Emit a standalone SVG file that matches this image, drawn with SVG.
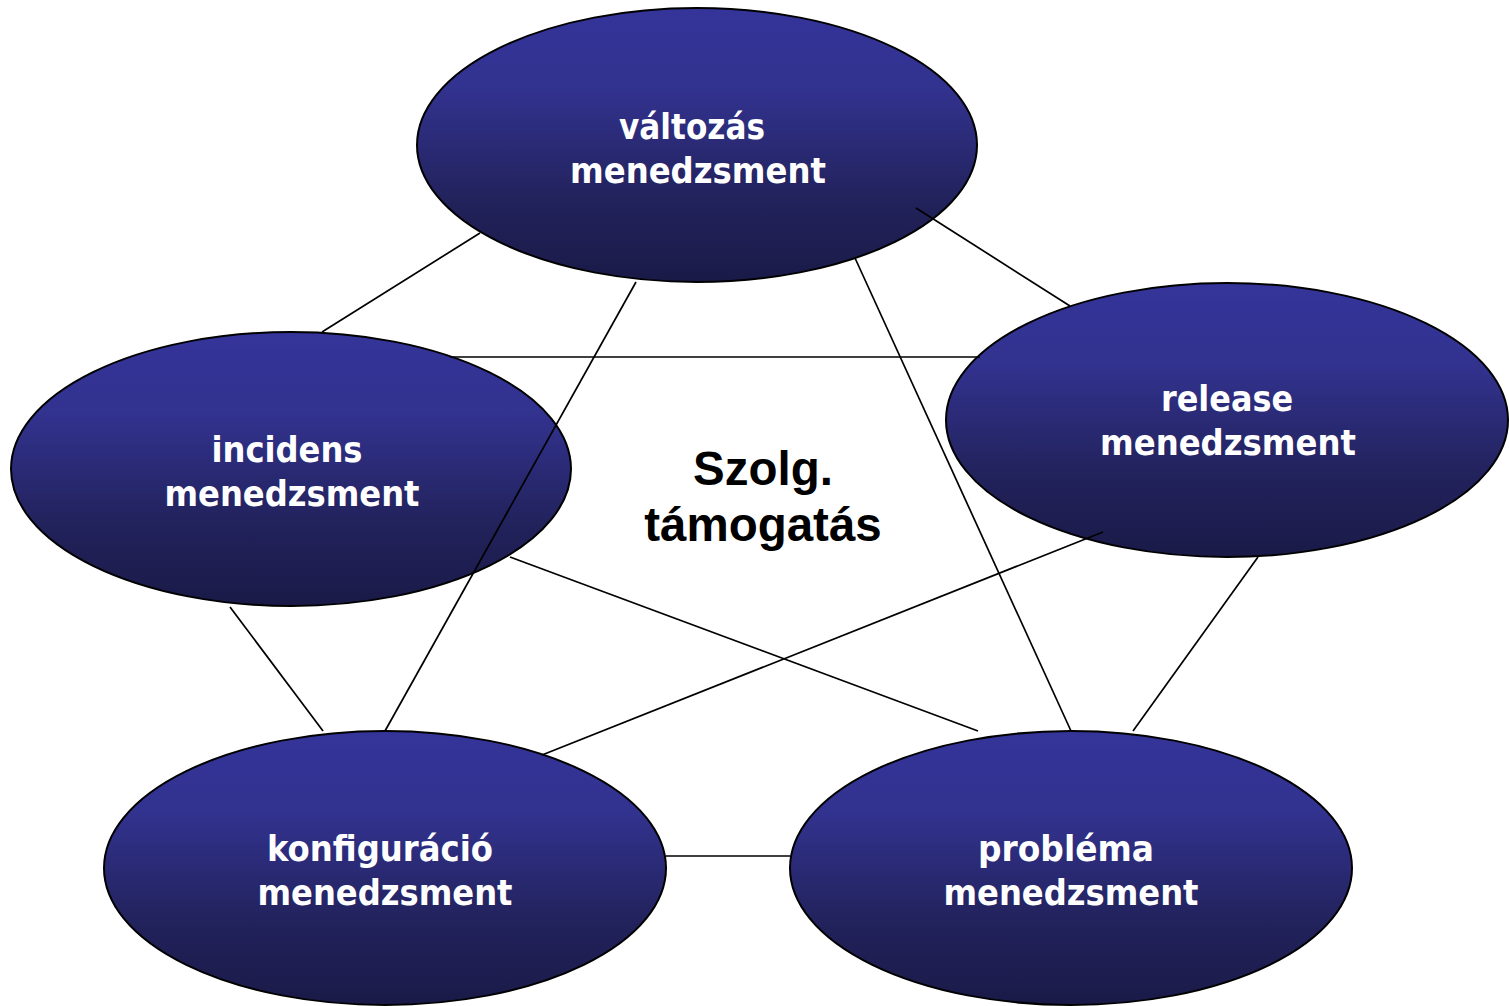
<svg xmlns="http://www.w3.org/2000/svg" width="1509" height="1006" viewBox="0 0 1509 1006">
  <defs>
    <linearGradient id="nodeFill" x1="0" y1="0" x2="0" y2="1">
      <stop offset="0" stop-color="#34349a"/>
      <stop offset="0.3" stop-color="#32328f"/>
      <stop offset="0.7" stop-color="#22225c"/>
      <stop offset="1" stop-color="#1a1a48"/>
    </linearGradient>
  </defs>
  <style>
    .node ellipse { fill: url(#nodeFill); stroke: #000; stroke-width: 2; }
    .node text { fill: #fff; font-family: "DejaVu Sans", "Liberation Sans", sans-serif; font-weight: bold; font-size: 35px; text-anchor: middle; }
    .edges line { stroke: #000; stroke-width: 1.7; }
    .hub { fill: #000; font-family: "Liberation Sans", Arial, sans-serif; font-weight: bold; font-size: 47.5px; text-anchor: middle; }
  </style>
  <rect width="1509" height="1006" fill="#fff"/>

  <g id="node-valtozas" class="node">
    <ellipse cx="697" cy="145" rx="280" ry="137"/>
    <text x="692" y="139" textLength="146" lengthAdjust="spacingAndGlyphs">változás</text>
    <text x="698" y="183" textLength="256" lengthAdjust="spacingAndGlyphs">menedzsment</text>
  </g>
  <g id="node-incidens" class="node">
    <ellipse cx="291" cy="469" rx="280" ry="137"/>
    <text x="287" y="462" textLength="151" lengthAdjust="spacingAndGlyphs">incidens</text>
    <text x="292" y="506" textLength="255" lengthAdjust="spacingAndGlyphs">menedzsment</text>
  </g>
  <g id="node-release" class="node">
    <ellipse cx="1227" cy="420" rx="281" ry="137"/>
    <text x="1227" y="411" textLength="132" lengthAdjust="spacingAndGlyphs">release</text>
    <text x="1228" y="455" textLength="256" lengthAdjust="spacingAndGlyphs">menedzsment</text>
  </g>
  <g id="node-konfiguracio" class="node">
    <ellipse cx="385" cy="868" rx="281" ry="137"/>
    <text x="380" y="861" textLength="226" lengthAdjust="spacingAndGlyphs">konfiguráció</text>
    <text x="385" y="905" textLength="255" lengthAdjust="spacingAndGlyphs">menedzsment</text>
  </g>
  <g id="node-problema" class="node">
    <ellipse cx="1071" cy="868" rx="281" ry="137"/>
    <text x="1066" y="861" textLength="176" lengthAdjust="spacingAndGlyphs">probléma</text>
    <text x="1071" y="905" textLength="255" lengthAdjust="spacingAndGlyphs">menedzsment</text>
  </g>

  <g id="edges" class="edges">
    <line x1="480" y1="233" x2="322" y2="332"/>
    <line x1="916" y1="208" x2="1070" y2="306"/>
    <line x1="636" y1="282" x2="385" y2="731"/>
    <line x1="855" y1="258" x2="1071" y2="731"/>
    <line x1="450" y1="357" x2="980" y2="357"/>
    <line x1="230" y1="607" x2="323" y2="731"/>
    <line x1="510" y1="557" x2="978" y2="731"/>
    <line x1="1103" y1="532" x2="542" y2="755"/>
    <line x1="1258" y1="557" x2="1133" y2="731"/>
    <line x1="666" y1="856" x2="790" y2="856"/>
  </g>

  <g id="hub">
    <text class="hub" x="763" y="485">Szolg.</text>
    <text class="hub" x="763" y="541">támogatás</text>
  </g>
</svg>
